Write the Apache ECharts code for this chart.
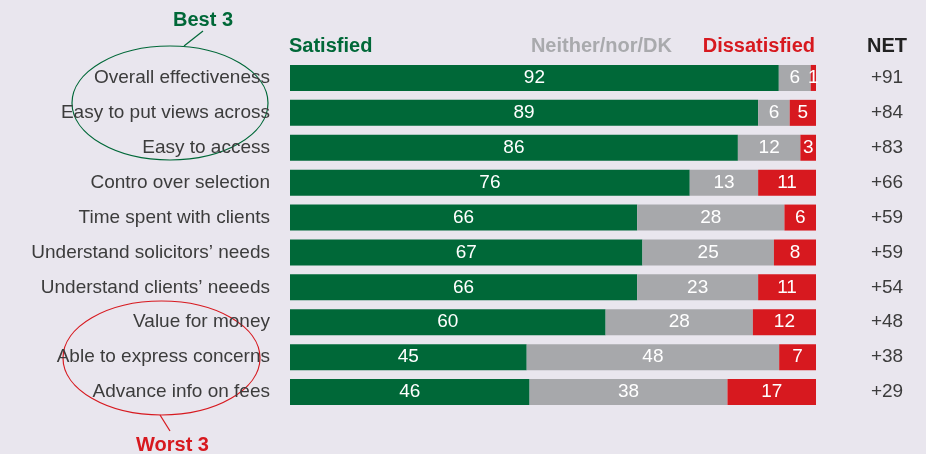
<!DOCTYPE html>
<html>
<head>
<meta charset="utf-8">
<script src="https://cdn.jsdelivr.net/npm/echarts@6/dist/echarts.min.js"></script>
<style>
  html, body { margin: 0; padding: 0; background: #e9e6ee; }
  #chart { width: 926px; height: 454px; }
</style>
</head>
<body>
<div id="chart"></div>
<script>
var categories = ["Overall effectiveness", "Easy to put views across", "Easy to access", "Contro over selection", "Time spent with clients", "Understand solicitors’ needs", "Understand clients’ neeeds", "Value for money", "Able to express concerns", "Advance info on fees"];
var satisfied = [92, 89, 86, 76, 66, 67, 66, 60, 45, 46];
var neither = [6, 6, 12, 13, 28, 25, 23, 28, 48, 38];
var dissatisfied = [1, 5, 3, 11, 6, 8, 11, 12, 7, 17];
var net = ["+91", "+84", "+83", "+66", "+59", "+59", "+54", "+48", "+38", "+29"];

var green = "#006838", grey = "#a7a8ab", red = "#d7191f";
var labelFont = "'Liberation Sans', Arial, sans-serif";

// each row is drawn as share of its own total, so every bar fills the width
function share(arr) {
  return arr.map(function (v, i) {
    var total = satisfied[i] + neither[i] + dissatisfied[i];
    return { value: v / total * 100, raw: v };
  });
}

function barSeries(name, arr, color) {
  return {
    name: name,
    type: "bar",
    stack: "all",
    barWidth: 26,
    data: share(arr),
    itemStyle: { color: color },
    label: {
      show: true,
      position: "inside",
      color: "#fff",
      fontFamily: labelFont,
      fontSize: 19,
      formatter: function (p) { return p.data.raw; }
    },
    silent: true
  };
}

var myChart = echarts.init(document.getElementById("chart"));
var option = {
  backgroundColor: "#e9e6ee",
  animation: false,
  grid: { left: 290, right: 110, top: 60.5, height: 349 },
  xAxis: { type: "value", min: 0, max: 100, show: false },
  yAxis: [
    {
      type: "category",
      data: categories,
      inverse: true,
      axisLine: { show: false },
      axisTick: { show: false },
      axisLabel: { color: "#3c3c3c", fontFamily: labelFont, fontSize: 19, margin: 20 }
    },
    {
      type: "category",
      data: net,
      inverse: true,
      position: "right",
      axisLine: { show: false },
      axisTick: { show: false },
      axisLabel: { color: "#3c3c3c", fontFamily: labelFont, fontSize: 19, margin: 71, align: "center" }
    }
  ],
  series: [
    barSeries("Satisfied", satisfied, green),
    barSeries("Neither/nor/DK", neither, grey),
    barSeries("Dissatisfied", dissatisfied, red)
  ],
  graphic: [
    { type: "text", left: 289, top: 36, style: { text: "Satisfied", fill: green, font: "bold 20px " + labelFont } },
    { type: "text", right: 254, top: 36, style: { text: "Neither/nor/DK", fill: "#a9aaad", font: "bold 20px " + labelFont } },
    { type: "text", right: 111, top: 36, style: { text: "Dissatisfied", fill: red, font: "bold 20px " + labelFont } },
    { type: "text", left: 867, top: 36, style: { text: "NET", fill: "#222", font: "bold 20px " + labelFont } },

    { type: "text", left: 173, top: 10, style: { text: "Best 3", fill: green, font: "bold 20px " + labelFont } },
    { type: "line", shape: { x1: 184, y1: 46, x2: 203, y2: 31 }, style: { stroke: green, lineWidth: 1.2 } },
    { type: "ellipse", shape: { cx: 170, cy: 103, rx: 98, ry: 57 }, style: { fill: null, stroke: green, lineWidth: 1.2 } },

    { type: "ellipse", shape: { cx: 161.5, cy: 358, rx: 98.5, ry: 57 }, style: { fill: null, stroke: red, lineWidth: 1.2 } },
    { type: "line", shape: { x1: 160, y1: 415, x2: 170, y2: 431 }, style: { stroke: red, lineWidth: 1.2 } },
    { type: "text", left: 136, top: 435, style: { text: "Worst 3", fill: red, font: "bold 20px " + labelFont } }
  ]
};
myChart.setOption(option);
</script>
</body>
</html>
